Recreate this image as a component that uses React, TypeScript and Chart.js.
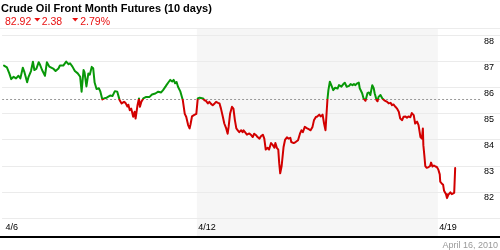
import React, { useEffect, useRef } from 'react';
import { Chart, registerables } from 'chart.js';

Chart.register(...registerables);

const TITLE = 'Crude Oil Front Month Futures (10 days)';
const LAST_PRICE = '82.92';
const CHANGE = '2.38';
const CHANGE_PCT = '2.79%';
const DATE_LABEL = 'April 16, 2010';
const PREV_CLOSE = 85.55;

// time in trading days since the 4/6 open
const times = [
  0, 0.06, 0.11, 0.15, 0.2, 0.25, 0.3, 0.34, 0.39, 0.42,
  0.48, 0.51, 0.56, 0.6, 0.63, 0.67, 0.72, 0.75, 0.79, 0.85,
  0.89, 0.94, 0.98, 1.03, 1.07, 1.13, 1.16, 1.23, 1.29, 1.34,
  1.37, 1.42, 1.47, 1.53, 1.58, 1.61, 1.65, 1.67, 1.71, 1.75,
  1.78, 1.82, 1.85, 1.88, 1.92, 1.97, 2.0, 2.04, 2.09, 2.13,
  2.2, 2.25, 2.3, 2.35, 2.38, 2.4, 2.44, 2.49, 2.52, 2.56,
  2.58, 2.61, 2.64, 2.68, 2.71, 2.73, 2.77, 2.8, 2.82, 2.85,
  2.89, 2.95, 3.02, 3.07, 3.14, 3.2, 3.26, 3.3, 3.35, 3.37,
  3.42, 3.45, 3.49, 3.52, 3.55, 3.58, 3.61, 3.66, 3.71, 3.75,
  3.78, 3.82, 3.85, 3.87, 3.9, 3.94, 3.99, 4.02, 4.06, 4.13,
  4.16, 4.19, 4.23, 4.26, 4.3, 4.33, 4.37, 4.4, 4.44, 4.47,
  4.5, 4.54, 4.57, 4.61, 4.64, 4.66, 4.69, 4.73, 4.76, 4.79,
  4.82, 4.85, 4.88, 4.92, 4.95, 4.97, 5.0, 5.04, 5.09, 5.12,
  5.16, 5.19, 5.23, 5.26, 5.3, 5.33, 5.37, 5.4, 5.43, 5.47,
  5.5, 5.54, 5.57, 5.61, 5.63, 5.66, 5.69, 5.71, 5.73, 5.76,
  5.8, 5.83, 5.87, 5.9, 5.94, 5.96, 6.01, 6.05, 6.1, 6.14,
  6.17, 6.2, 6.24, 6.28, 6.33, 6.36, 6.4, 6.43, 6.47, 6.5,
  6.54, 6.57, 6.61, 6.64, 6.67, 6.71, 6.73, 6.76, 6.8, 6.83,
  6.87, 6.92, 6.95, 7.0, 7.04, 7.07, 7.11, 7.16, 7.19, 7.23,
  7.26, 7.29, 7.33, 7.36, 7.38, 7.43, 7.46, 7.5, 7.54, 7.57,
  7.6, 7.64, 7.67, 7.69, 7.73, 7.75, 7.77, 7.81, 7.85, 7.89,
  7.95, 7.98, 8.02, 8.05, 8.08, 8.12, 8.15, 8.19, 8.22, 8.26,
  8.29, 8.33, 8.36, 8.39, 8.43, 8.46, 8.5, 8.53, 8.57, 8.6,
  8.64, 8.67, 8.69, 8.7, 8.72, 8.74, 8.77, 8.81, 8.84, 8.86,
  8.89, 8.92, 8.95, 8.98, 9.01, 9.04, 9.05, 9.08, 9.11, 9.13,
  9.17, 9.19, 9.22, 9.26, 9.29, 9.32, 9.34, 9.36,
];

const prices = [
  86.85, 86.78, 86.55, 86.33, 86.42, 86.36, 86.46, 86.36, 86.77, 86.62,
  86.21, 86.42, 86.64, 87.0, 86.68, 86.72, 86.98, 86.87, 86.68, 86.46,
  86.98, 86.81, 86.77, 86.72, 86.64, 86.74, 86.85, 86.85, 87.0, 86.9,
  86.94, 86.81, 86.64, 86.55, 86.42, 85.85, 86.68, 86.6, 86.05, 86.55,
  86.5, 86.8, 86.75, 86.2, 85.95, 85.98, 85.85, 85.55, 85.6, 85.62,
  85.7, 85.68, 85.87, 85.85, 85.65, 85.52, 85.4, 85.46, 85.42, 85.28,
  85.35, 85.14, 85.2, 84.89, 85.08, 84.82, 85.33, 85.59, 85.27, 85.46,
  85.59, 85.65, 85.65, 85.74, 85.78, 85.85, 85.82, 85.91, 86.04, 86.1,
  86.23, 86.3, 86.24, 86.3, 86.17, 86.22, 86.04, 85.85, 85.52, 85.0,
  84.89, 84.57, 84.44, 84.6, 84.9, 84.95, 85.0, 85.59, 85.62, 85.59,
  85.52, 85.5, 85.4, 85.46, 85.37, 85.33, 85.4, 85.46, 85.42, 85.4,
  85.21, 84.89, 84.63, 84.44, 84.24, 84.5, 85.0, 85.27, 85.2, 84.76,
  84.44, 84.37, 84.3, 84.37, 84.3, 84.37, 84.3, 84.2, 84.25, 84.2,
  84.11, 84.24, 84.18, 84.11, 84.05, 84.14, 84.2, 84.05, 83.63, 83.7,
  83.63, 83.88, 83.82, 83.7, 83.88, 83.7, 83.63, 83.1, 82.72, 83.0,
  83.73, 84.0, 84.1, 84.05, 84.08, 83.92, 83.88, 83.92, 83.99, 84.24,
  84.37, 84.3, 84.5, 84.45, 84.4, 84.37, 84.5, 84.75, 84.88, 84.9,
  84.97, 84.9, 84.97, 84.63, 84.37, 85.55, 85.91, 86.23, 86.05, 85.91,
  86.0, 85.97, 86.1, 86.04, 86.14, 86.19, 86.04, 86.07, 86.14, 86.1,
  86.14, 86.1, 86.17, 86.2, 85.98, 85.79, 85.59, 85.5, 85.79, 85.82,
  85.72, 86.1, 85.98, 85.79, 85.52, 85.48, 85.65, 85.72, 85.59, 85.52,
  85.46, 85.4, 85.42, 85.33, 85.36, 85.27, 85.21, 85.08, 84.82, 84.76,
  84.89, 84.9, 84.85, 84.9, 84.87, 85.03, 84.95, 84.63, 84.7, 84.57,
  84.11, 84.05, 84.44, 83.8, 83.42, 83.0, 82.93, 82.96, 83.0, 83.13,
  82.98, 83.02, 82.98, 82.96, 82.87, 82.68, 82.4, 82.33, 82.28, 82.05,
  81.92, 81.77, 81.9, 81.99, 81.92, 81.95, 81.98, 82.92,
];

const xTickDays = [0, 4, 9];
const xTickLabels = ['4/6', '4/12', '4/19'];
const yTickValues = [81, 82, 83, 84, 85, 86, 87, 88];
const yTickLabels = ['', '82', '83', '84', '85', '86', '87', '88'];
const SHADE_START = 4;
const SHADE_END = 9;
const X_MIN = -0.04;
const X_MAX = 10.29;
const Y_MIN = 81;
const Y_MAX = 88.29;
const BASELINE_END = 9.92;

const GREEN = '#089808';
const RED = '#d20000';
const FONT = '"Liberation Sans", Arial, sans-serif';

const decorPlugin = {
  id: 'decor',
  beforeDraw(chart: any) {
    const { ctx, chartArea, scales } = chart;
    const x = scales.x;
    ctx.save();
    const x0 = x.getPixelForValue(SHADE_START);
    const x1 = x.getPixelForValue(SHADE_END);
    ctx.fillStyle = '#f6f6f6';
    ctx.fillRect(x0, chartArea.top + 1, x1 - x0, 236 - chartArea.top - 1);
    ctx.fillStyle = '#ececec';
    ctx.fillRect(0, chartArea.top, chart.width, 1);
    ctx.restore();
  },
  afterDraw(chart: any) {
    const { ctx } = chart;
    ctx.save();
    // title
    ctx.fillStyle = '#000';
    ctx.font = `bold 11px ${FONT}`;
    ctx.textAlign = 'left';
    ctx.textBaseline = 'alphabetic';
    ctx.fillText(TITLE, 1, 12);
    // quote line
    ctx.fillStyle = '#e81010';
    ctx.font = `10.5px ${FONT}`;
    let cx = 5;
    const base = 25;
    const tri = (x: number) => {
      ctx.beginPath();
      ctx.moveTo(x, 18);
      ctx.lineTo(x + 6, 18);
      ctx.lineTo(x + 3, 21.5);
      ctx.closePath();
      ctx.fill();
    };
    ctx.fillText(LAST_PRICE, cx, base);
    cx += ctx.measureText(LAST_PRICE).width + 3;
    tri(cx);
    cx += 7.5;
    ctx.fillText(CHANGE, cx, base);
    cx += ctx.measureText(CHANGE).width + 10;
    tri(cx);
    cx += 8;
    ctx.fillText(CHANGE_PCT, cx, base);
    // bottom rule
    ctx.fillStyle = '#000';
    ctx.fillRect(0, 236, chart.width, 2);
    // date
    ctx.fillStyle = '#999';
    ctx.font = `9px ${FONT}`;
    ctx.textAlign = 'right';
    ctx.fillText(DATE_LABEL, 498, 248);
    ctx.restore();
  },
};

export default function App() {
  const ref = useRef<HTMLCanvasElement | null>(null);

  useEffect(() => {
    if (!ref.current) return;
    const points = times.map((t, i) => ({ x: t, y: prices[i] }));
    const chart = new Chart(ref.current, {
      type: 'line',
      data: {
        datasets: [
          {
            data: points,
            borderWidth: 2,
            pointRadius: 0,
            tension: 0,
            borderJoinStyle: 'round',
            borderCapStyle: 'round',
            borderColor: (c: any) => {
              const ch = c.chart;
              const area = ch.chartArea;
              if (!area) return GREEN;
              const yPix = ch.scales.y.getPixelForValue(PREV_CLOSE);
              const g = ch.ctx.createLinearGradient(0, area.top, 0, area.bottom);
              const s = Math.min(1, Math.max(0, (yPix - area.top) / (area.bottom - area.top)));
              g.addColorStop(0, GREEN);
              g.addColorStop(s, GREEN);
              g.addColorStop(s, RED);
              g.addColorStop(1, RED);
              return g;
            },
          } as any,
          {
            data: [
              { x: X_MIN, y: PREV_CLOSE },
              { x: BASELINE_END, y: PREV_CLOSE },
            ],
            borderColor: '#999',
            borderWidth: 1,
            borderDash: [2, 2],
            pointRadius: 0,
            tension: 0,
          },
        ],
      },
      options: {
        animation: false,
        responsive: false,
        events: [],
        font: { family: FONT },
        layout: { padding: { top: 28, bottom: 13, left: 0, right: 0 } },
        plugins: { legend: { display: false }, tooltip: { enabled: false }, title: { display: false } },
        scales: {
          x: {
            type: 'linear',
            min: X_MIN,
            max: X_MAX,
            grid: { display: false, drawTicks: false },
            border: { display: false },
            afterBuildTicks: (axis: any) => {
              axis.ticks = xTickDays.map((v) => ({ value: v }));
            },
            ticks: {
              autoSkip: false,
              maxRotation: 0,
              align: 'start',
              labelOffset: 1.5,
              padding: 4,
              color: '#000',
              font: { size: 9, family: FONT },
              callback: (v: any) => {
                const i = xTickDays.indexOf(Number(v));
                return i >= 0 ? xTickLabels[i] : '';
              },
            },
          },
          y: {
            type: 'linear',
            position: 'right',
            min: Y_MIN,
            max: Y_MAX,
            grid: { color: '#ebebeb', drawTicks: false, lineWidth: 1 },
            border: { display: false },
            afterBuildTicks: (axis: any) => {
              axis.ticks = yTickValues.map((v) => ({ value: v }));
            },
            afterFit: (axis: any) => {
              axis.width = 0;
            },
            ticks: {
              mirror: true,
              padding: -6,
              labelOffset: 5.5,
              color: '#000',
              font: { size: 9, family: FONT },
              callback: (v: any) => {
                const i = yTickValues.indexOf(Number(v));
                return i >= 0 ? yTickLabels[i] : '';
              },
            },
          },
        },
      } as any,
      plugins: [decorPlugin],
    });
    return () => chart.destroy();
  }, []);

  return (
    <div style={{ position: 'absolute', left: 0, top: 0, width: 500, height: 250, background: '#fff' }}>
      <canvas ref={ref} width={500} height={250} style={{ display: 'block' }} />
    </div>
  );
}
